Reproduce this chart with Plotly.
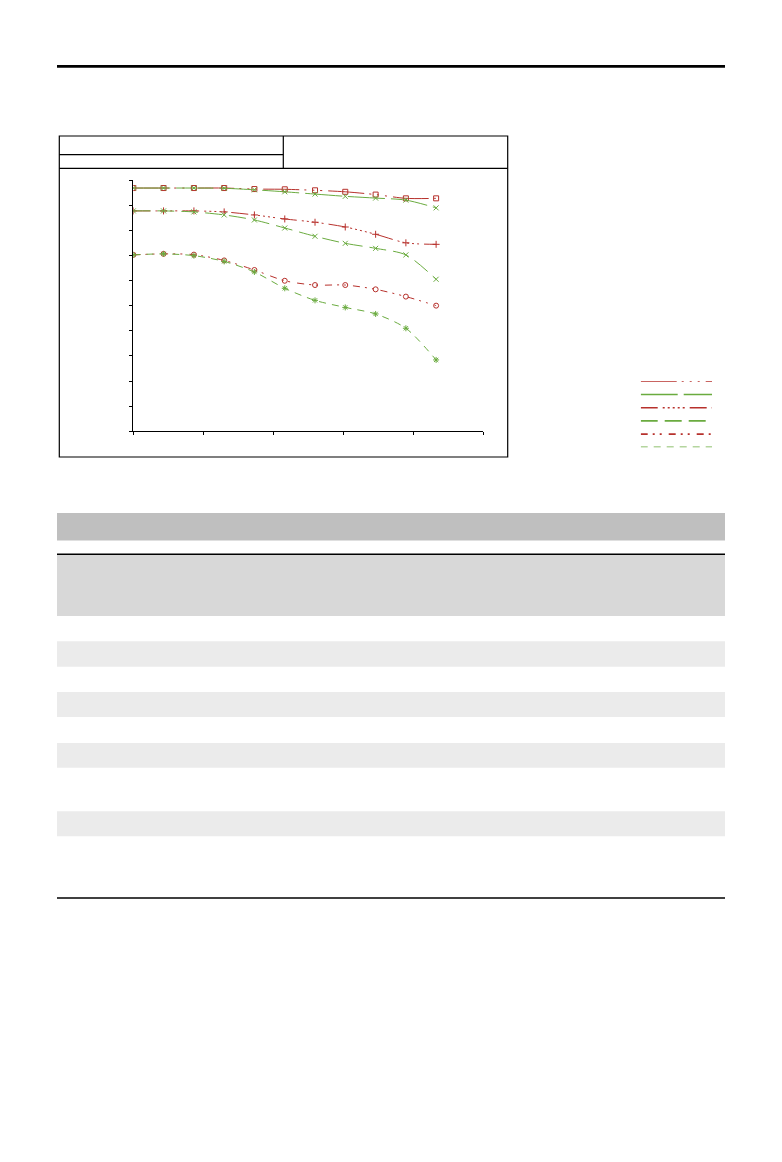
import plotly.graph_objects as go

# page is drawn with an 8px body margin, so the figure is a bit smaller
OFFSET = 8
W, H = 782 - 2 * OFFSET, 1162 - 2 * OFFSET
RED = "#b7312c"
GREEN = "#6aab3f"

# image height (mm) at which MTF was read
field_mm = [0, 2.16, 4.33, 6.49, 8.65, 10.82, 12.98, 15.14, 17.31, 19.47, 21.63]

# MTF values
mtf_10_sag = [0.968, 0.968, 0.968, 0.968, 0.964, 0.963, 0.959, 0.953, 0.942, 0.927, 0.927]
mtf_10_mer = [0.968, 0.968, 0.968, 0.967, 0.961, 0.953, 0.944, 0.935, 0.928, 0.920, 0.889]
mtf_20_sag = [0.877, 0.877, 0.877, 0.873, 0.861, 0.845, 0.832, 0.813, 0.784, 0.750, 0.744]
mtf_20_mer = [0.877, 0.877, 0.873, 0.861, 0.841, 0.809, 0.776, 0.748, 0.728, 0.702, 0.605]
mtf_30_sag = [0.702, 0.706, 0.703, 0.680, 0.642, 0.599, 0.582, 0.582, 0.565, 0.536, 0.500]
mtf_30_mer = [0.702, 0.706, 0.699, 0.676, 0.634, 0.569, 0.521, 0.493, 0.467, 0.410, 0.284]

x_ticks = [0, 5, 10, 15, 20, 25]
y_ticks = [0, 0.1, 0.2, 0.3, 0.4, 0.5, 0.6, 0.7, 0.8, 0.9, 1.0]
legend_rows = [0, 1, 2, 3, 4, 5]

series = [
    (mtf_10_sag, RED, "36px,5px,2px,6px,2px,6px,2px,6px", "square-open"),
    (mtf_10_mer, GREEN, "37px,6px", "x-thin"),
    (mtf_20_sag, RED, "17px,5px,2px,3px,2px,3px,2px,3px,2px,3px,2px,5px", "cross-thin"),
    (mtf_20_mer, GREEN, "17px,7px", "x-thin-open"),
    (mtf_30_sag, RED, "7px,5px,2px,5px,2px,7px", "circle-open"),
    (mtf_30_mer, GREEN, "7px,6px", "asterisk-open"),
]


def px(x):
    return (x - OFFSET) / W


def py(y):
    return 1 - (y - OFFSET) / H


fig = go.Figure()

for (vals, color, dash, sym), row in zip(series, legend_rows):
    fig.add_trace(go.Scatter(
        x=field_mm, y=vals, mode="lines+markers",
        line=dict(color=color, width=1, dash=dash, shape="spline", smoothing=0.8),
        marker=dict(symbol=sym, size=5, color=color, line=dict(color=color, width=1)),
        showlegend=False, hoverinfo="skip",
    ))
    # legend sample line
    fig.add_trace(go.Scatter(
        x=[0, 1], y=[row, row], mode="lines",
        line=dict(color=color, width=1.6, dash=dash),
        xaxis="x2", yaxis="y2", showlegend=False, hoverinfo="skip",
    ))

shapes = []
# top page rule
shapes.append(dict(type="line", xref="paper", yref="paper",
                   x0=px(57), x1=px(725), y0=py(66.3), y1=py(66.3),
                   line=dict(color="black", width=2.7)))
# chart frame and header cells
shapes.append(dict(type="rect", xref="paper", yref="paper",
                   x0=px(59.3), x1=px(507.7), y0=py(136), y1=py(457),
                   line=dict(color="black", width=1.2)))
shapes.append(dict(type="line", xref="paper", yref="paper",
                   x0=px(59.3), x1=px(507.7), y0=py(168.3), y1=py(168.3),
                   line=dict(color="black", width=1.2)))
shapes.append(dict(type="line", xref="paper", yref="paper",
                   x0=px(59.3), x1=px(283.3), y0=py(154.7), y1=py(154.7),
                   line=dict(color="black", width=1.2)))
shapes.append(dict(type="line", xref="paper", yref="paper",
                   x0=px(283.3), x1=px(283.3), y0=py(136), y1=py(168.3),
                   line=dict(color="black", width=1.2)))

# spec table below
shapes.append(dict(type="rect", xref="paper", yref="paper", layer="below",
                   x0=px(57), x1=px(725), y0=py(513), y1=py(540.5),
                   fillcolor="#bfbfbf", line=dict(width=0)))
shapes.append(dict(type="rect", xref="paper", yref="paper", layer="below",
                   x0=px(57), x1=px(725), y0=py(555), y1=py(616),
                   fillcolor="#d8d8d8", line=dict(width=0)))
for top, bottom in [(641.3, 666.7), (692, 717), (743, 767.7), (811.3, 836.3)]:
    shapes.append(dict(type="rect", xref="paper", yref="paper", layer="below",
                       x0=px(57), x1=px(725), y0=py(top), y1=py(bottom),
                       fillcolor="#ebebeb", line=dict(width=0)))
shapes.append(dict(type="line", xref="paper", yref="paper",
                   x0=px(57), x1=px(725), y0=py(554.2), y1=py(554.2),
                   line=dict(color="black", width=1.5)))
shapes.append(dict(type="line", xref="paper", yref="paper",
                   x0=px(57), x1=px(725), y0=py(898), y1=py(898),
                   line=dict(color="black", width=1.3)))

fig.update_layout(
    width=W, height=H,
    margin=dict(l=0, r=0, t=0, b=0),
    paper_bgcolor="white", plot_bgcolor="white",
    showlegend=False,
    shapes=shapes,
    xaxis=dict(domain=[px(133.3), px(483.3)], range=[0, 25],
               tickvals=x_ticks, showticklabels=False, ticks="outside",
               ticklen=3, tickwidth=1, tickcolor="black",
               showline=True, linecolor="black", linewidth=1.2,
               showgrid=False, zeroline=False, fixedrange=True),
    yaxis=dict(domain=[py(431.3), py(180)], range=[0, 1],
               tickvals=y_ticks, showticklabels=False, ticks="outside",
               ticklen=3, tickwidth=1, tickcolor="black",
               showline=True, linecolor="black", linewidth=1.2,
               showgrid=False, zeroline=False, fixedrange=True),
    xaxis2=dict(domain=[px(640.7), px(712)], range=[0, 1], visible=False,
                anchor="y2", fixedrange=True),
    yaxis2=dict(domain=[py(447.3), py(381.3)], range=[5, 0], visible=False,
                anchor="x2", fixedrange=True),
)

fig.write_html("out.html")
